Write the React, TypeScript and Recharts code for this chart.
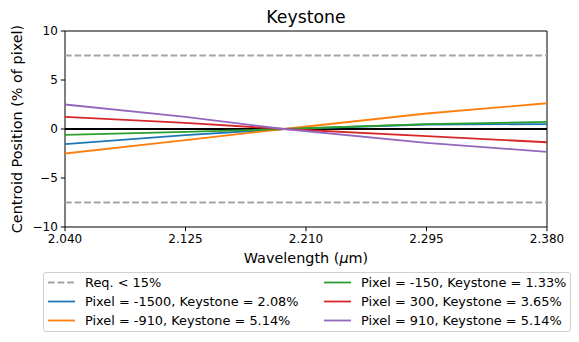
import { LineChart, Line, XAxis, YAxis, ReferenceLine, ReferenceArea } from 'recharts';

const wavelengths = [2.04, 2.125, 2.1945, 2.295, 2.38];
const pixelM1500 = [-1.55, -0.63, 0, 0.46, 0.5];
const pixelM910 = [-2.5, -1.14, 0, 1.58, 2.63];
const pixelM150 = [-0.6, -0.29, 0, 0.5, 0.73];
const pixel300 = [1.24, 0.63, 0, -0.73, -1.35];
const pixel910 = [2.5, 1.24, 0, -1.41, -2.33];

const xTicks = [2.04, 2.125, 2.21, 2.295, 2.38];
const yTicks = [-10, -5, 0, 5, 10];
const reqLimits = [7.5, -7.5];

const seriesNames = [
  'Pixel = -1500, Keystone = 2.08%',
  'Pixel = -910, Keystone = 5.14%',
  'Pixel = -150, Keystone = 1.33%',
  'Pixel = 300, Keystone = 3.65%',
  'Pixel = 910, Keystone = 5.14%',
];
const seriesValues = [pixelM1500, pixelM910, pixelM150, pixel300, pixel910];
const colors = ['#1f77b4', '#ff7f0e', '#2ca02c', '#d62728', '#9467bd'];
const reqLabel = 'Req. < 15%';
const reqColor = '#a4a4a4';

const FONT = '"DejaVu Sans", sans-serif';

const data = wavelengths.map((wl, i) => {
  const row: Record<string, number> = { wl };
  seriesValues.forEach((vals, s) => { row['s' + s] = vals[i]; });
  return row;
});

const fmtY = (v: number) => (v < 0 ? '\u2212' + Math.abs(v) : String(v));

const XLabel = (props: any) => {
  const vb = props.viewBox || {};
  return (
    <text x={vb.x + vb.width / 2} y={vb.y + 31} textAnchor="middle" dominantBaseline="central"
      fontSize={14.4} fontFamily={FONT} fill="#000">
      Wavelength (<tspan fontStyle="italic">μ</tspan>m)
    </text>
  );
};

const YLabel = (props: any) => {
  const vb = props.viewBox || {};
  const cx = vb.x + vb.width - 48;
  const cy = vb.y + vb.height / 2;
  return (
    <text x={cx} y={cy} textAnchor="middle" dominantBaseline="central" fontSize={14.4}
      fontFamily={FONT} fill="#000" transform={`rotate(-90, ${cx}, ${cy})`}>
      Centroid Position (% of pixel)
    </text>
  );
};

// legend entries, column-major like matplotlib ncol=2
const legendItems = [
  { label: reqLabel, color: reqColor, dashed: true },
  ...seriesNames.map((n, i) => ({ label: n, color: colors[i], dashed: false })),
];

const LegendBox = () => {
  const cols = [legendItems.slice(0, 3), legendItems.slice(3)];
  const colX = [5, 281];
  return (
    <div style={{
      position: 'absolute', left: 43, top: 272, width: 528, height: 60,
      border: '1px solid #d0d0d0', borderRadius: 3, boxSizing: 'border-box', background: '#fff',
    }}>
      <svg width={528} height={60} style={{ position: 'absolute', left: -1, top: -1 }}>
        {cols.map((col, c) => col.map((it, r) => {
          const y = 10.5 + r * 19;
          return (
            <g key={c + '-' + r}>
              <line x1={colX[c]} x2={colX[c] + 27} y1={y} y2={y} stroke={it.color} strokeWidth={1.8}
                strokeDasharray={it.dashed ? '6.7 2.9' : undefined} />
              <text x={colX[c] + 37} y={y} dominantBaseline="central" fontSize={12.9} fontFamily={FONT} fill="#000">
                {it.label}
              </text>
            </g>
          );
        }))}
      </svg>
    </div>
  );
};

export default function App() {
  return (
    <div style={{ position: 'absolute', left: 0, top: 0, width: 579, height: 342, background: '#fff', fontFamily: FONT }}>
      <div style={{
        position: 'absolute', left: 0, width: 612, top: 6, textAlign: 'center',
        fontSize: 17.3, lineHeight: '22px', color: '#000',
      }}>Keystone</div>
      <LineChart width={579} height={342} data={data} margin={{ top: 31, right: 32, left: 25, bottom: 85 }}>
        <XAxis dataKey="wl" type="number" domain={[2.04, 2.38]} ticks={xTicks} allowDataOverflow
          tickFormatter={(v: number) => v.toFixed(3)} height={30} stroke="#000" tickSize={4.2} tickMargin={3}
          tick={{ fill: '#000', fontSize: 12, fontFamily: FONT }} axisLine={false} label={<XLabel />} />
        <YAxis type="number" domain={[-10, 10]} ticks={yTicks} allowDataOverflow width={40} stroke="#000"
          tickFormatter={fmtY} tickSize={4.2} tickMargin={3} axisLine={false}
          tick={{ fill: '#000', fontSize: 12, fontFamily: FONT }} label={<YLabel />} />
        {reqLimits.map((v) => (
          <ReferenceLine key={v} y={v} stroke={reqColor} strokeWidth={1.8} strokeDasharray="6.7 2.9" />
        ))}
        <ReferenceLine y={0} stroke="#000" strokeWidth={1.8} />
        {seriesValues.map((_, s) => (
          <Line key={s} dataKey={'s' + s} stroke={colors[s]} strokeWidth={1.8} dot={false} type="linear"
            isAnimationActive={false} />
        ))}
        <ReferenceArea x1={2.04} x2={2.38} y1={-10} y2={10} fill="none" stroke="#000" strokeWidth={1} fillOpacity={0} />
      </LineChart>
      <LegendBox />
    </div>
  );
}
